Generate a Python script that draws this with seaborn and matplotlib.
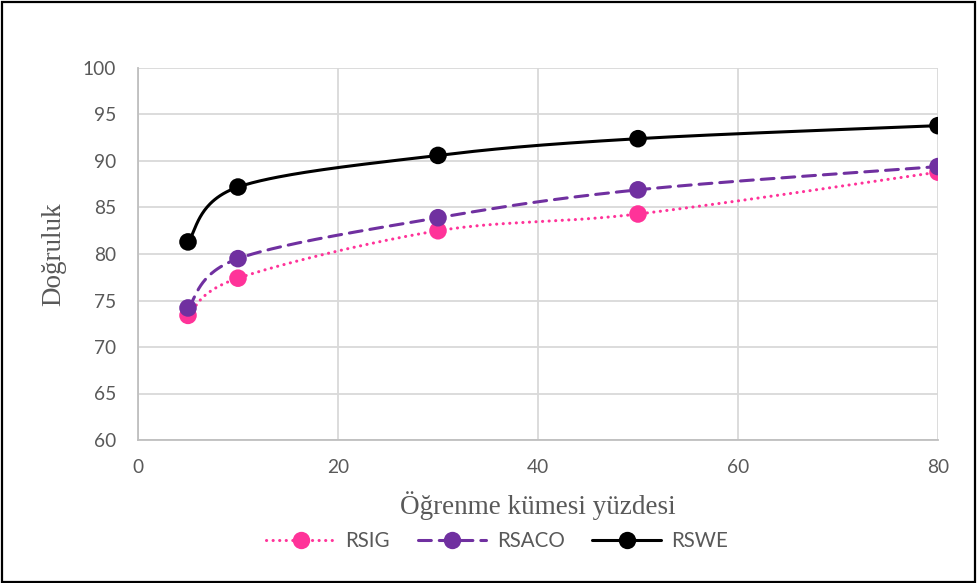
import numpy as np
import pandas as pd
import seaborn as sns
import matplotlib
matplotlib.use("Agg")
import matplotlib.pyplot as plt
from matplotlib.lines import Line2D
from matplotlib.patches import Rectangle

# Training-set percentage and accuracy of each method
egitim_yuzdesi = [5, 10, 30, 50, 80]
rsig = [73.4, 77.4, 82.5, 84.3, 88.8]
rsaco = [74.2, 79.5, 83.9, 86.9, 89.4]
rswe = [81.3, 87.2, 90.6, 92.4, 93.8]

seri_adlari = ["RSIG", "RSACO", "RSWE"]
renkler = {"RSIG": "#FF3399", "RSACO": "#7030A0", "RSWE": "#000000"}
cizgi_stilleri = {"RSIG": (0, (0.05, 2.1)), "RSACO": (0, (4.2, 2.6)), "RSWE": "-"}

y_ticks = [60, 65, 70, 75, 80, 85, 90, 95, 100]
x_ticks = [0, 20, 40, 60, 80]

sns.set_theme(style="white")
plt.rcParams["font.family"] = ["Lato", "DejaVu Sans"]

W, H = 977, 583
fig = plt.figure(figsize=(W / 100, H / 100), dpi=100)
ax = fig.add_axes([138 / W, 1 - 440 / H, 800 / W, 372 / H])

# Plot-area scale in pixels per data unit, used for a screen-space smooth curve
px_x = 800 / 80
px_y = 372 / 40


def smooth(xs, ys, n=60):
    """Catmull-Rom style smoothed line through the points (screen space)."""
    P = np.column_stack([np.asarray(xs, float) * px_x, np.asarray(ys, float) * px_y])
    out = []
    for i in range(len(P) - 1):
        p0 = P[i - 1] if i > 0 else P[i]
        p1, p2 = P[i], P[i + 1]
        p3 = P[i + 2] if i + 2 < len(P) else P[i + 1]
        c1 = p1 + (p2 - p0) / 6
        c2 = p2 - (p3 - p1) / 6
        t = np.linspace(0, 1, n)[:, None]
        seg = ((1 - t) ** 3) * p1 + 3 * ((1 - t) ** 2) * t * c1 + 3 * (1 - t) * t ** 2 * c2 + t ** 3 * p2
        out.append(seg if i == 0 else seg[1:])
    S = np.vstack(out)
    return S[:, 0] / px_x, S[:, 1] / px_y


veriler = {"RSIG": rsig, "RSACO": rsaco, "RSWE": rswe}
nokta_df = pd.concat(
    [pd.DataFrame({"x": egitim_yuzdesi, "y": v, "seri": k}) for k, v in veriler.items()],
    ignore_index=True,
)

for ad in seri_adlari:
    sx, sy = smooth(egitim_yuzdesi, veriler[ad])
    egri = pd.DataFrame({"x": sx, "y": sy})
    sns.lineplot(data=egri, x="x", y="y", ax=ax, color=renkler[ad], linewidth=2.2,
                 linestyle=cizgi_stilleri[ad], sort=False, estimator=None,
                 solid_capstyle="round", dash_capstyle="round", zorder=3)

sns.scatterplot(data=nokta_df, x="x", y="y", hue="seri", palette=renkler, ax=ax,
                s=160, edgecolor="none", legend=False, zorder=4)

ax.set_xlim(0, 80)
ax.set_ylim(60, 100)
ax.set_xticks(x_ticks)
ax.set_yticks(y_ticks)
ax.grid(True, color="#D9D9D9", linewidth=1.3)
ax.set_axisbelow(True)
for s in ["top", "right"]:
    ax.spines[s].set_visible(False)
for s in ["left", "bottom"]:
    ax.spines[s].set_color("#BFBFBF")
    ax.spines[s].set_linewidth(1.3)
ax.tick_params(axis="both", length=0, labelsize=13.8, labelcolor="#595959")
ax.tick_params(axis="y", pad=16)
ax.tick_params(axis="x", pad=14)

ax.set_xlabel("Öğrenme kümesi yüzdesi", family=["Liberation Serif", "DejaVu Serif"],
              fontsize=19.5, color="#595959")
ax.set_ylabel("Doğruluk", family=["Liberation Serif", "DejaVu Serif"],
              fontsize=19.5, color="#595959")
ax.xaxis.set_label_coords(0.5, -0.137)
ax.yaxis.set_label_coords(-0.09, 0.5)

tutamaclar = [
    Line2D([0], [0], color=renkler[ad], linewidth=2.2, linestyle=cizgi_stilleri[ad],
           dash_capstyle="round", marker="o", markersize=12.5, markeredgewidth=0)
    for ad in seri_adlari
]
leg = fig.legend(tutamaclar, seri_adlari, loc="center", bbox_to_anchor=(0.509, 0.072),
                 ncol=3, frameon=False, fontsize=14.8, handlelength=3.35,
                 handletextpad=0.5, columnspacing=1.35)
for t in leg.get_texts():
    t.set_color("#595959")

# Outer chart border
fig.patches.append(Rectangle((1.5 / W, 1.5 / H), 1 - 3.5 / W, 1 - 3.5 / H,
                             transform=fig.transFigure, fill=False,
                             edgecolor="black", linewidth=1.6))

fig.savefig("out.png", dpi=100, facecolor="white")
